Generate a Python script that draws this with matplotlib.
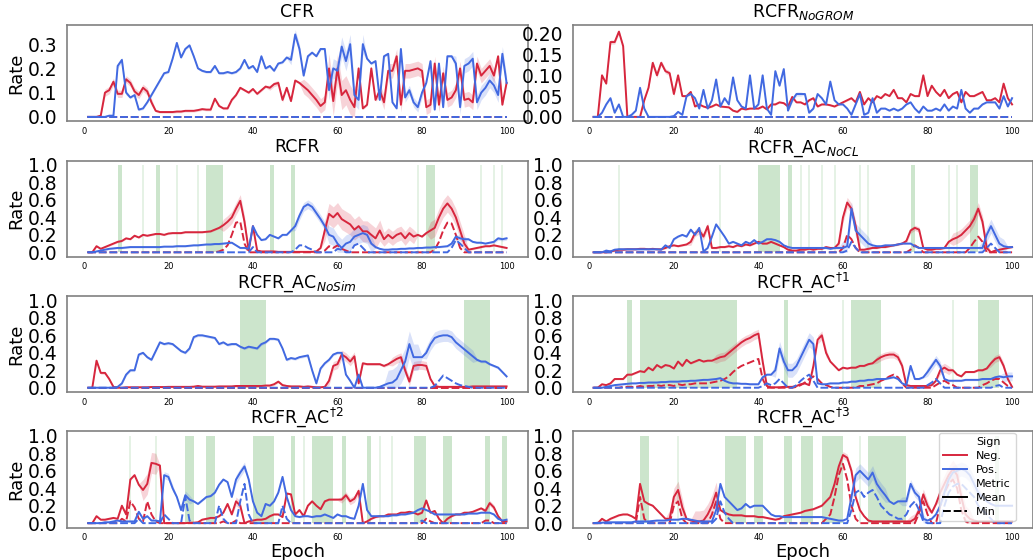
import numpy as np
import matplotlib
matplotlib.use('Agg')
import matplotlib.pyplot as plt
from matplotlib.lines import Line2D
from matplotlib.ticker import FormatStrFormatter

epochs = np.arange(1, 101)

# ---------------- CFR ----------------
cfr_neg = [0, 0, 0, 0.005, 0.10, 0.11, 0.145, 0.095, 0.095, 0.155,
           0.14, 0.105, 0.09, 0.12, 0.105, 0.06, 0.025, 0.02, 0.02, 0.02,
           0.02, 0.022, 0.022, 0.025, 0.025, 0.025, 0.028, 0.032, 0.03, 0.03,
           0.075, 0.045, 0.035, 0.035, 0.07, 0.09, 0.12, 0.11, 0.10, 0.115,
           0.095, 0.11, 0.125, 0.12, 0.135, 0.14, 0.07, 0.12, 0.065, 0.15,
           0.14, 0.125, 0.11, 0.09, 0.07, 0.045, 0.06, 0.20, 0.065, 0.20,
           0.09, 0.11, 0.07, 0.04, 0.20, 0.035, 0.05, 0.20, 0.07, 0.11,
           0.06, 0.19, 0.19, 0.25, 0.05, 0.19, 0.19, 0.195, 0.20, 0.19,
           0.04, 0.05, 0.22, 0.05, 0.18, 0.07, 0.08, 0.11, 0.20, 0.07,
           0.075, 0.06, 0.22, 0.17, 0.19, 0.21, 0.17, 0.25, 0.05, 0.14]
cfr_pos = [0, 0, 0, 0, 0, 0.005, 0.005, 0.21, 0.235, 0.10,
           0.08, 0.09, 0.03, 0.035, 0.06, 0.09, 0.12, 0.15, 0.18, 0.185,
           0.24, 0.305, 0.245, 0.28, 0.295, 0.25, 0.20, 0.19, 0.185, 0.185,
           0.21, 0.18, 0.18, 0.185, 0.18, 0.185, 0.20, 0.235, 0.20, 0.21,
           0.185, 0.25, 0.20, 0.21, 0.19, 0.22, 0.225, 0.245, 0.235, 0.34,
           0.28, 0.17, 0.25, 0.265, 0.25, 0.28, 0.28, 0.11, 0.20, 0.19,
           0.29, 0.23, 0.30, 0.09, 0.07, 0.30, 0.24, 0.22, 0.23, 0.07,
           0.25, 0.26, 0.06, 0.035, 0.28, 0.08, 0.11, 0.06, 0.04, 0.10,
           0.14, 0.23, 0.03, 0.22, 0.04, 0.25, 0.25, 0.22, 0.04, 0.21,
           0.22, 0.24, 0.06, 0.10, 0.12, 0.15, 0.13, 0.09, 0.26, 0.14]
cfr_neg_min = {}
cfr_pos_min = {}
cfr_neg_band = [(5, 16, 0.015), (44, 47, 0.01), (52, 57, 0.03), (58, 64, 0.06), (70, 75, 0.03), (76, 97, 0.03)]
cfr_pos_band = [(8, 10, 0.01), (49, 51, 0.02), (58, 66, 0.04), (76, 80, 0.02), (88, 100, 0.03)]
cfr_spans = []

# ---------------- RCFR_NoGROM ----------------
nogrom_neg = [0, 0, 0.10, 0.08, 0.18, 0.18, 0.205, 0.17, 0, 0,
              0, 0, 0.04, 0.07, 0.13, 0.10, 0.13, 0.11, 0.105, 0.055,
              0.10, 0.05, 0.05, 0.06, 0.025, 0.03, 0.025, 0.022, 0.025, 0.03,
              0.025, 0.024, 0.023, 0.015, 0.012, 0.02, 0.018, 0.02, 0.02, 0.02,
              0.025, 0.018, 0.03, 0.03, 0.035, 0.033, 0.025, 0.048, 0.035, 0.035,
              0.03, 0.04, 0.045, 0.025, 0.03, 0.03, 0.028, 0.025, 0.03, 0.035,
              0.04, 0.045, 0.035, 0.06, 0.03, 0.045, 0.035, 0.05, 0.045, 0.055,
              0.05, 0.065, 0.045, 0.045, 0.035, 0.055, 0.05, 0.05, 0.10, 0.05,
              0.075, 0.06, 0.05, 0.065, 0.045, 0.055, 0.06, 0.035, 0.06, 0.05,
              0.05, 0.055, 0.06, 0.04, 0.04, 0.045, 0.035, 0.08, 0.045, 0.03]
nogrom_pos = [0, 0, 0.01, 0.03, 0.045, 0.01, 0.03, 0, 0, 0.005,
              0.015, 0.07, 0.02, 0, 0, 0, 0, 0, 0, 0.002,
              0.012, 0.005, 0.05, 0.055, 0.045, 0.02, 0.065, 0.02, 0.04, 0.09,
              0.025, 0.045, 0.03, 0.095, 0.04, 0.025, 0.02, 0.10, 0.02, 0.03,
              0.10, 0.02, 0.005, 0.11, 0.075, 0.115, 0.015, 0.04, 0.055, 0.055,
              0.055, 0.01, 0.02, 0.055, 0.045, 0.03, 0.085, 0.04, 0.03, 0.03,
              0.02, 0.005, 0.03, 0.055, 0.005, 0.01, 0.045, 0.01, 0.02, 0.02,
              0.015, 0.02, 0.015, 0.02, 0.03, 0.035, 0.02, 0.01, 0.025, 0.015,
              0.015, 0.02, 0.015, 0.03, 0.015, 0.025, 0.02, 0.065, 0.02, 0.01,
              0.02, 0.02, 0.03, 0.035, 0.035, 0.035, 0.02, 0.05, 0.025, 0.045]
nogrom_neg_min = {}
nogrom_pos_min = {}
nogrom_neg_band = [(5, 8, 0.005), (15, 20, 0.006)]
nogrom_pos_band = [(48, 50, 0.005)]
nogrom_spans = []

# ---------------- RCFR ----------------
rcfr_neg = [0, 0, 0.07, 0.04, 0.06, 0.08, 0.10, 0.12, 0.13, 0.16,
            0.15, 0.19, 0.17, 0.20, 0.19, 0.20, 0.21, 0.21, 0.20, 0.215,
            0.22, 0.22, 0.22, 0.23, 0.23, 0.23, 0.23, 0.23, 0.235, 0.24,
            0.26, 0.28, 0.31, 0.35, 0.40, 0.50, 0.59, 0.35, 0.02, 0.30,
            0.02, 0.01, 0.01, 0.01, 0.01, 0.005, 0.005, 0.005, 0.005, 0.005,
            0.005, 0.005, 0.005, 0.005, 0.01, 0.05, 0.25, 0.44, 0.40, 0.45,
            0.38, 0.35, 0.32, 0.26, 0.30, 0.24, 0.24, 0.20, 0.16, 0.25,
            0.15, 0.20, 0.16, 0.20, 0.22, 0.16, 0.22, 0.18, 0.20, 0.18,
            0.22, 0.25, 0.28, 0.40, 0.50, 0.56, 0.50, 0.40, 0.25, 0.10,
            0.03, 0.04, 0.05, 0.06, 0.07, 0.07, 0.08, 0.07, 0.06, 0.05]
rcfr_pos = [0, 0, 0.01, 0.02, 0.03, 0.04, 0.045, 0.05, 0.05, 0.055,
            0.06, 0.06, 0.06, 0.06, 0.06, 0.06, 0.06, 0.06, 0.065, 0.065,
            0.065, 0.07, 0.07, 0.07, 0.075, 0.08, 0.08, 0.085, 0.09, 0.09,
            0.095, 0.095, 0.10, 0.105, 0.11, 0.08, 0.05, 0.05, 0.04, 0.30,
            0.20, 0.14, 0.15, 0.20, 0.18, 0.16, 0.20, 0.20, 0.25, 0.30,
            0.42, 0.52, 0.55, 0.52, 0.45, 0.38, 0.30, 0.20, 0.18, 0.10,
            0.05, 0.10, 0.12, 0.18, 0.20, 0.22, 0.20, 0.10, 0.06, 0.04,
            0.03, 0.03, 0.035, 0.035, 0.04, 0.04, 0.045, 0.045, 0.05, 0.05,
            0.055, 0.055, 0.06, 0.06, 0.065, 0.07, 0.10, 0.18, 0.16, 0.15,
            0.15, 0.12, 0.11, 0.11, 0.10, 0.11, 0.12, 0.16, 0.15, 0.16]
rcfr_neg_min = {32: 0.01, 33: 0.03, 34: 0.08, 35: 0.20, 36: 0.34, 37: 0.35, 38: 0.10,
                57: 0.02, 58: 0.07, 59: 0.05, 60: 0.08, 61: 0.04, 62: 0.02,
                83: 0.03, 84: 0.12, 85: 0.25, 86: 0.34, 87: 0.33, 88: 0.20, 89: 0.05}
rcfr_pos_min = {40: 0.06, 50: 0.03, 51: 0.08, 52: 0.08, 53: 0.05, 54: 0.03, 60: 0.04,
                61: 0.03, 64: 0.08, 65: 0.10, 66: 0.05, 87: 0.05, 88: 0.14, 89: 0.10, 90: 0.05}
rcfr_neg_band = [(33, 38, 0.07), (57, 70, 0.12), (71, 78, 0.08), (82, 90, 0.10)]
rcfr_pos_band = [(50, 57, 0.05), (58, 68, 0.10), (87, 90, 0.03), (97, 100, 0.02)]
rcfr_spans = [(8, 9), (14, 14), (17, 18), (22, 22), (27, 27), (29, 33), (44, 45),
              (49, 50), (79, 79), (81, 83), (94, 94), (97, 97), (99, 99)]

# ---------------- RCFR_AC_NoCL ----------------
nocl_neg = [0, 0, 0, 0, 0.01, 0.02, 0.03, 0.03, 0.035, 0.035,
            0.035, 0.04, 0.04, 0.035, 0.04, 0.035, 0.035, 0.05, 0.07, 0.08,
            0.07, 0.08, 0.09, 0.12, 0.22, 0.25, 0.18, 0.30, 0.05, 0.05,
            0.06, 0.06, 0.07, 0.06, 0.08, 0.07, 0.09, 0.08, 0.10, 0.12,
            0.10, 0.10, 0.12, 0.10, 0.08, 0.06, 0.03, 0.02, 0.02, 0.03,
            0.03, 0.04, 0.03, 0.04, 0.04, 0.06, 0.05, 0.05, 0.10, 0.40,
            0.57, 0.50, 0.30, 0.03, 0.03, 0.04, 0.05, 0.05, 0.06, 0.06,
            0.07, 0.08, 0.09, 0.10, 0.13, 0.25, 0.28, 0.26, 0.05, 0.03,
            0.03, 0.04, 0.04, 0.05, 0.12, 0.15, 0.17, 0.20, 0.25, 0.30,
            0.38, 0.50, 0.35, 0.05, 0.0, 0.02, 0.03, 0.04, 0.05, 0.06]
nocl_pos = [0, 0, 0, 0.02, 0.01, 0.03, 0.035, 0.035, 0.035, 0.035,
            0.035, 0.035, 0.035, 0.035, 0.035, 0.035, 0.03, 0.08, 0.05, 0.15,
            0.18, 0.20, 0.18, 0.26, 0.20, 0.28, 0.01, 0.05, 0.18, 0.32,
            0.25, 0.18, 0.10, 0.12, 0.10, 0.08, 0.12, 0.10, 0.14, 0.10,
            0.12, 0.15, 0.15, 0.14, 0.12, 0.08, 0.06, 0.05, 0.05, 0.05,
            0.05, 0.05, 0.05, 0.05, 0.05, 0.05, 0.04, 0.05, 0.05, 0.05,
            0.07, 0.50, 0.25, 0.20, 0.15, 0.10, 0.08, 0.07, 0.07, 0.08,
            0.08, 0.08, 0.09, 0.10, 0.10, 0.10, 0.07, 0.05, 0.05, 0.05,
            0.05, 0.05, 0.05, 0.05, 0.05, 0.05, 0.05, 0.05, 0.05, 0.05,
            0.05, 0.05, 0.05, 0.20, 0.30, 0.20, 0.10, 0.07, 0.06, 0.06]
nocl_neg_min = {60: 0.05, 61: 0.20, 62: 0.15, 63: 0.05, 76: 0.03, 77: 0.08, 78: 0.05,
                90: 0.05, 91: 0.12, 92: 0.18, 93: 0.12}
nocl_pos_min = {61: 0.02, 62: 0.12, 63: 0.05, 94: 0.05, 95: 0.10, 96: 0.05}
nocl_neg_band = [(24, 28, 0.04), (59, 63, 0.06), (75, 78, 0.03), (86, 94, 0.07)]
nocl_pos_band = [(60, 66, 0.08), (93, 98, 0.08)]
nocl_spans = [(7, 7), (31, 31), (40, 45), (47, 48), (50, 50), (52, 52), (55, 55),
              (58, 58), (64, 64), (66, 66), (76, 77), (85, 85), (87, 87), (90, 92)]

# ---------------- RCFR_AC_NoSim ----------------
nosim_neg = [0, 0, 0.31, 0.17, 0.17, 0.10, 0.01, 0, 0, 0.005,
             0.005, 0.005, 0.005, 0.005, 0.005, 0.008, 0.008, 0.008, 0.008, 0.01,
             0.01, 0.01, 0.01, 0.01, 0.01, 0.012, 0.02, 0.012, 0.012, 0.012,
             0.012, 0.015, 0.015, 0.015, 0.015, 0.02, 0.02, 0.02, 0.02, 0.02,
             0.02, 0.02, 0.025, 0.025, 0.04, 0.07, 0.03, 0.02, 0.015, 0.015,
             0.015, 0.01, 0.015, 0.01, 0.005, 0.005, 0.01, 0.08, 0.25, 0.27,
             0.38, 0.35, 0.30, 0.36, 0.05, 0.28, 0.27, 0.27, 0.27, 0.27,
             0.25, 0.27, 0.30, 0.33, 0.35, 0.20, 0.07, 0.25, 0.26, 0.26,
             0.25, 0.10, 0.02, 0.01, 0.01, 0.01, 0.01, 0.01, 0.01, 0.01,
             0.01, 0.015, 0.015, 0.015, 0.015, 0.015, 0.015, 0.015, 0.015, 0.015]
nosim_pos = [0, 0, 0, 0, 0, 0, 0, 0.01, 0.05, 0.15,
             0.20, 0.20, 0.38, 0.40, 0.35, 0.32, 0.42, 0.52, 0.50, 0.51,
             0.50, 0.46, 0.42, 0.40, 0.45, 0.58, 0.60, 0.60, 0.59, 0.58,
             0.57, 0.50, 0.52, 0.49, 0.50, 0.50, 0.47, 0.45, 0.47, 0.46,
             0.45, 0.50, 0.52, 0.56, 0.56, 0.55, 0.45, 0.32, 0.34, 0.33,
             0.35, 0.36, 0.37, 0.20, 0.05, 0.22, 0.28, 0.32, 0.38, 0.40,
             0.40, 0.15, 0.08, 0.0, 0.15, 0.0, 0.0, 0.0, 0.0, 0.01,
             0.03, 0.05, 0.06, 0.10, 0.20, 0.30, 0.50, 0.35, 0.35, 0.35,
             0.40, 0.50, 0.57, 0.59, 0.60, 0.60, 0.58, 0.52, 0.48, 0.44,
             0.40, 0.36, 0.32, 0.30, 0.30, 0.27, 0.25, 0.23, 0.18, 0.13]
nosim_neg_min = {}
nosim_pos_min = {83: 0.02, 84: 0.08, 85: 0.14, 86: 0.11, 87: 0.08, 88: 0.05, 89: 0.03,
                 90: 0.02, 91: 0.01}
nosim_neg_band = [(58, 64, 0.05), (73, 81, 0.05)]
nosim_pos_band = [(72, 79, 0.15), (81, 92, 0.07)]
nosim_spans = [(37, 43), (90, 96)]

# ---------------- RCFR_AC^{dagger 1} ----------------
ac1_neg = [0, 0, 0.04, 0.03, 0.05, 0.10, 0.10, 0.10, 0.15, 0.15,
           0.17, 0.19, 0.18, 0.23, 0.20, 0.26, 0.23, 0.26, 0.25, 0.22,
           0.30, 0.25, 0.32, 0.28, 0.30, 0.32, 0.30, 0.31, 0.31, 0.33,
           0.35, 0.36, 0.40, 0.44, 0.48, 0.52, 0.55, 0.57, 0.60, 0.62,
           0.30, 0.02, 0.005, 0.005, 0.005, 0.01, 0.01, 0.01, 0.02, 0.04,
           0.05, 0.03, 0.25, 0.55, 0.60, 0.40, 0.30, 0.25, 0.20, 0.23,
           0.22, 0.23, 0.23, 0.25, 0.25, 0.27, 0.28, 0.32, 0.35, 0.37,
           0.38, 0.38, 0.35, 0.25, 0.03, 0.02, 0.02, 0.02, 0.02, 0.02,
           0.03, 0.08, 0.20, 0.23, 0.20, 0.20, 0.15, 0.13, 0.18, 0.18,
           0.18, 0.20, 0.20, 0.22, 0.28, 0.33, 0.35, 0.25, 0.10, 0.01]
ac1_pos = [0, 0, 0, 0.01, 0.02, 0.03, 0.035, 0.04, 0.045, 0.05,
           0.05, 0.055, 0.055, 0.06, 0.06, 0.06, 0.065, 0.065, 0.07, 0.07,
           0.07, 0.075, 0.075, 0.08, 0.08, 0.085, 0.09, 0.09, 0.095, 0.10,
           0.11, 0.08, 0.06, 0.05, 0.05, 0.045, 0.045, 0.04, 0.04, 0.04,
           0.12, 0.15, 0.15, 0.20, 0.45, 0.30, 0.20, 0.20, 0.25, 0.35,
           0.45, 0.55, 0.50, 0.05, 0.04, 0.04, 0.05, 0.05, 0.05, 0.06,
           0.06, 0.07, 0.07, 0.08, 0.08, 0.09, 0.09, 0.10, 0.10, 0.10,
           0.11, 0.12, 0.10, 0.05, 0.03, 0.25, 0.10, 0.10, 0.12, 0.18,
           0.25, 0.32, 0.25, 0.10, 0.08, 0.08, 0.08, 0.08, 0.09, 0.09,
           0.09, 0.09, 0.10, 0.10, 0.10, 0.12, 0.13, 0.12, 0.13, 0.13]
ac1_neg_min = {8: 0.01, 9: 0.01, 10: 0.01, 11: 0.01, 12: 0.02, 13: 0.01, 14: 0.02, 15: 0.02,
               16: 0.03, 17: 0.02, 18: 0.03, 19: 0.03, 20: 0.02, 21: 0.04, 22: 0.03, 23: 0.04,
               24: 0.04, 25: 0.05, 26: 0.05, 27: 0.05, 28: 0.05, 29: 0.06, 30: 0.07,
               31: 0.08, 32: 0.10, 33: 0.13, 34: 0.18, 35: 0.22, 36: 0.25, 37: 0.27,
               38: 0.29, 39: 0.31, 40: 0.33, 41: 0.10, 49: 0.01, 50: 0.03, 51: 0.06,
               52: 0.10, 53: 0.13, 54: 0.10, 55: 0.05, 56: 0.03, 57: 0.01, 64: 0.02,
               65: 0.02, 66: 0.03, 67: 0.04, 68: 0.05, 69: 0.08, 70: 0.10, 71: 0.13,
               72: 0.15, 73: 0.12, 74: 0.05, 82: 0.03, 83: 0.06, 84: 0.08, 85: 0.05,
               86: 0.03, 93: 0.03, 94: 0.05, 95: 0.08, 96: 0.10, 97: 0.10, 98: 0.06, 99: 0.02}
ac1_pos_min = {41: 0.02, 42: 0.05, 43: 0.03, 44: 0.05, 45: 0.10, 46: 0.05, 49: 0.03,
               50: 0.08, 51: 0.12, 52: 0.15, 53: 0.08, 80: 0.03, 81: 0.06, 82: 0.10,
               83: 0.05, 96: 0.02, 97: 0.03}
ac1_neg_band = [(30, 41, 0.05), (53, 56, 0.05), (68, 74, 0.04), (83, 85, 0.05), (95, 98, 0.04)]
ac1_pos_band = [(44, 53, 0.08), (80, 83, 0.05), (98, 100, 0.05)]
ac1_spans = [(9, 10), (12, 35), (46, 47), (60, 60), (62, 69), (86, 86), (92, 97)]

# ---------------- RCFR_AC^{dagger 2} ----------------
ac2_neg = [0, 0, 0.08, 0.04, 0.04, 0.05, 0.06, 0.05, 0.20, 0.10,
           0.50, 0.55, 0.44, 0.38, 0.45, 0.69, 0.68, 0.66, 0.0, 0.0,
           0.0, 0.0, 0.0, 0.0, 0.005, 0.005, 0.01, 0.04, 0.05, 0.06,
           0.06, 0.08, 0.12, 0.22, 0.10, 0.25, 0.20, 0.0, 0.02, 0.03,
           0.04, 0.04, 0.05, 0.08, 0.10, 0.10, 0.07, 0.34, 0.33, 0.10,
           0.15, 0.08, 0.20, 0.25, 0.20, 0.16, 0.25, 0.27, 0.27, 0.27,
           0.27, 0.32, 0.25, 0.28, 0.37, 0.0, 0.02, 0.05, 0.07, 0.08,
           0.08, 0.10, 0.10, 0.10, 0.12, 0.12, 0.13, 0.12, 0.10, 0.12,
           0.26, 0.12, 0.14, 0.05, 0.0, 0.05, 0.08, 0.10, 0.10, 0.12,
           0.12, 0.13, 0.15, 0.17, 0.14, 0.23, 0.18, 0.08, 0.02, 0.02]
ac2_pos = [0, 0, 0, 0, 0.01, 0.01, 0.02, 0.03, 0.02, 0.02,
           0.02, 0.02, 0.13, 0.05, 0.08, 0.03, 0.03, 0.02, 0.55, 0.53,
           0.40, 0.30, 0.15, 0.32, 0.27, 0.25, 0.22, 0.26, 0.30, 0.31,
           0.35, 0.44, 0.50, 0.47, 0.30, 0.50, 0.58, 0.65, 0.50, 0.25,
           0.12, 0.08, 0.22, 0.20, 0.25, 0.35, 0.53, 0.30, 0.15, 0.08,
           0.07, 0.08, 0.08, 0.07, 0.08, 0.08, 0.10, 0.08, 0.06, 0.10,
           0.08, 0.08, 0.06, 0.05, 0.20, 0.45, 0.15, 0.08, 0.08, 0.08,
           0.08, 0.08, 0.09, 0.09, 0.10, 0.10, 0.11, 0.12, 0.15, 0.17,
           0.15, 0.13, 0.10, 0.10, 0.10, 0.10, 0.10, 0.10, 0.10, 0.10,
           0.11, 0.11, 0.11, 0.12, 0.12, 0.12, 0.10, 0.05, 0.03, 0.04]
ac2_neg_min = {9: 0.05, 10: 0.02, 11: 0.25, 12: 0.18, 13: 0.05, 14: 0.02, 15: 0.25,
               16: 0.10, 17: 0.02, 33: 0.02, 36: 0.03, 81: 0.05, 82: 0.02, 95: 0.03, 96: 0.03}
ac2_pos_min = {13: 0.05, 19: 0.10, 20: 0.05, 24: 0.30, 25: 0.03, 32: 0.20, 33: 0.05,
               37: 0.25, 38: 0.45, 39: 0.10, 47: 0.20, 48: 0.05, 80: 0.03}
ac2_neg_band = [(14, 17, 0.12), (36, 37, 0.05), (61, 65, 0.04), (95, 97, 0.03)]
ac2_pos_band = [(19, 21, 0.04), (24, 25, 0.05), (36, 38, 0.05)]
ac2_spans = [(11, 11), (17, 17), (24, 26), (29, 31), (40, 45), (49, 50), (52, 52),
             (54, 59), (61, 62), (67, 68), (70, 70), (73, 73), (78, 81), (85, 87),
             (95, 96), (99, 100)]

# ---------------- RCFR_AC^{dagger 3} ----------------
ac3_neg = [0, 0, 0.05, 0.02, 0.05, 0.07, 0.09, 0.10, 0.10, 0.08,
           0.05, 0.45, 0.25, 0.22, 0.20, 0.15, 0.10, 0.05, 0.05, 0.30,
           0.38, 0.18, 0.05, 0.03, 0.02, 0.02, 0.03, 0.10, 0.20, 0.35,
           0.15, 0.12, 0.10, 0.09, 0.09, 0.09, 0.08, 0.08, 0.08, 0.07,
           0.07, 0.06, 0.05, 0.04, 0.05, 0.08, 0.09, 0.10, 0.11, 0.12,
           0.14, 0.15, 0.16, 0.18, 0.20, 0.25, 0.30, 0.45, 0.65, 0.78,
           0.75, 0.60, 0.30, 0.15, 0.08, 0.03, 0.02, 0.02, 0.02, 0.02,
           0.02, 0.02, 0.02, 0.02, 0.02, 0.02, 0.05, 0.15, 0.33, 0.20,
           0.12, 0.22, 0.35, 0.45, 0.55, 0.62, 0.55, 0.30, 0.10, 0.05,
           0.03, 0.02, 0.02, 0.02, 0.02, 0.02, 0.02, 0.02, 0.02, 0.02]
ac3_pos = [0, 0.005, 0.005, 0.01, 0.01, 0.01, 0.01, 0.01, 0.01, 0.01,
           0.02, 0.02, 0.02, 0.02, 0.025, 0.03, 0.03, 0.03, 0.04, 0.04,
           0.04, 0.05, 0.05, 0.04, 0.03, 0.02, 0.02, 0.02, 0.02, 0.15,
           0.45, 0.30, 0.25, 0.20, 0.15, 0.17, 0.22, 0.18, 0.20, 0.20,
           0.20, 0.15, 0.10, 0.08, 0.08, 0.07, 0.07, 0.07, 0.07, 0.07,
           0.07, 0.07, 0.07, 0.07, 0.07, 0.06, 0.05, 0.04, 0.03, 0.03,
           0.05, 0.30, 0.55, 0.60, 0.55, 0.50, 0.58, 0.45, 0.38, 0.32,
           0.25, 0.22, 0.25, 0.25, 0.25, 0.45, 0.35, 0.30, 0.05, 0.03,
           0.05, 0.10, 0.20, 0.35, 0.50, 0.58, 0.60, 0.62, 0.60, 0.55,
           0.45, 0.35, 0.30, 0.25, 0.22, 0.20, 0.20, 0.20, 0.20, 0.20]
ac3_neg_min = {12: 0.30, 13: 0.05, 20: 0.20, 21: 0.25, 22: 0.05, 29: 0.10, 30: 0.25,
               31: 0.05, 56: 0.05, 57: 0.10, 58: 0.30, 59: 0.55, 60: 0.68, 61: 0.50,
               62: 0.20, 63: 0.05, 78: 0.12, 79: 0.25, 80: 0.10, 83: 0.20, 84: 0.35,
               85: 0.45, 86: 0.50, 87: 0.40, 88: 0.15, 89: 0.02}
ac3_pos_min = {30: 0.05, 31: 0.25, 32: 0.12, 33: 0.05, 62: 0.15, 63: 0.35, 64: 0.38,
               65: 0.30, 66: 0.35, 67: 0.38, 68: 0.30, 69: 0.20, 70: 0.15, 71: 0.10,
               72: 0.08, 73: 0.05, 74: 0.05, 75: 0.10, 76: 0.20, 77: 0.25, 78: 0.15,
               79: 0.02, 84: 0.20, 85: 0.35, 86: 0.42, 87: 0.45, 88: 0.45, 89: 0.40,
               90: 0.35, 91: 0.30, 92: 0.20, 93: 0.15, 94: 0.10, 95: 0.05}
ac3_neg_band = [(19, 22, 0.10), (25, 30, 0.12), (58, 62, 0.04), (76, 80, 0.06), (83, 90, 0.10)]
ac3_pos_band = [(62, 70, 0.08), (74, 79, 0.05), (84, 92, 0.08)]
ac3_spans = [(12, 14), (21, 21), (32, 37), (39, 41), (46, 48), (50, 53), (55, 60),
             (64, 64), (66, 75), (96, 97)]

titles = ['CFR', r'RCFR$_{NoGROM}$', 'RCFR', r'RCFR_AC$_{NoCL}$',
          r'RCFR_AC$_{NoSim}$', r'RCFR_AC$^{\dagger1}$', r'RCFR_AC$^{\dagger2}$',
          r'RCFR_AC$^{\dagger3}$']

RED = '#d7263d'
BLUE = '#4169e1'


def from_sparse(d):
    arr = np.zeros(100)
    for k, v in d.items():
        arr[k - 1] = v
    return arr


def band(base, ranges):
    s = np.full(100, base)
    for a, b, w in ranges:
        s[a - 1:b] = w
    return s


panels = [
    (cfr_neg, cfr_pos, cfr_neg_min, cfr_pos_min, cfr_neg_band, cfr_pos_band, 0.005, cfr_spans),
    (nogrom_neg, nogrom_pos, nogrom_neg_min, nogrom_pos_min, nogrom_neg_band, nogrom_pos_band, 0.002, nogrom_spans),
    (rcfr_neg, rcfr_pos, rcfr_neg_min, rcfr_pos_min, rcfr_neg_band, rcfr_pos_band, 0.01, rcfr_spans),
    (nocl_neg, nocl_pos, nocl_neg_min, nocl_pos_min, nocl_neg_band, nocl_pos_band, 0.01, nocl_spans),
    (nosim_neg, nosim_pos, nosim_neg_min, nosim_pos_min, nosim_neg_band, nosim_pos_band, 0.015, nosim_spans),
    (ac1_neg, ac1_pos, ac1_neg_min, ac1_pos_min, ac1_neg_band, ac1_pos_band, 0.01, ac1_spans),
    (ac2_neg, ac2_pos, ac2_neg_min, ac2_pos_min, ac2_neg_band, ac2_pos_band, 0.01, ac2_spans),
    (ac3_neg, ac3_pos, ac3_neg_min, ac3_pos_min, ac3_neg_band, ac3_pos_band, 0.01, ac3_spans),
]

fig, axes = plt.subplots(4, 2, figsize=(10.33, 5.6), dpi=100)
plt.subplots_adjust(left=0.065, right=1.0, bottom=0.058, top=0.955, hspace=0.41, wspace=0.098)

for i, (ax, p) in enumerate(zip(axes.flat, panels)):
    neg, pos, neg_min, pos_min, neg_b, pos_b, base, spans = p
    for a, b in spans:
        if a == b:
            ax.vlines(a, 0, 1, color='green', alpha=0.12, lw=1.2)
        else:
            ax.fill_between([a, b], 0, 1, color='green', alpha=0.2, lw=0)
    for mean, mn, rng, c in [(neg, neg_min, neg_b, RED), (pos, pos_min, pos_b, BLUE)]:
        mean = np.array(mean)
        hw = band(base, rng)
        ax.fill_between(epochs, np.clip(mean - hw, 0, None), mean + hw, color=c, alpha=0.2, lw=0)
        ax.plot(epochs, mean, color=c, lw=1.4)
        ax.plot(epochs, from_sparse(mn), color=c, lw=1.4, ls=(0, (4, 1.5)))

    ax.set_title(titles[i], fontsize=12.5)
    for s in ax.spines.values():
        s.set_color('0.5')
        s.set_linewidth(1.2)
    ax.tick_params(axis='x', labelsize=6, length=0, pad=4)
    ax.tick_params(axis='y', labelsize=13.5, length=0, pad=7)
    ax.set_xticks([0, 20, 40, 60, 80, 100])
    if i == 0:
        ax.set_yticks([0, 0.1, 0.2, 0.3])
        ax.yaxis.set_major_formatter(FormatStrFormatter('%.1f'))
    elif i == 1:
        ax.set_yticks([0, 0.05, 0.1, 0.15, 0.2])
        ax.yaxis.set_major_formatter(FormatStrFormatter('%.2f'))
    else:
        ax.set_yticks([0, 0.2, 0.4, 0.6, 0.8, 1.0])
        ax.yaxis.set_major_formatter(FormatStrFormatter('%.1f'))
    if i % 2 == 0:
        ax.set_ylabel('Rate', fontsize=13, labelpad=2)
    if i >= 6:
        ax.set_xlabel('Epoch', fontsize=13, labelpad=1)

handles = [Line2D([], [], color='none'),
           Line2D([], [], color=RED, lw=1.4),
           Line2D([], [], color=BLUE, lw=1.4),
           Line2D([], [], color='none'),
           Line2D([], [], color='black', lw=1.4),
           Line2D([], [], color='black', lw=1.4, ls=(0, (4, 1.5)))]
labels = ['Sign', 'Neg.', 'Pos.', 'Metric', 'Mean', 'Min']
axes[3, 1].legend(handles, labels, loc='upper right', bbox_to_anchor=(0.962, 0.985),
                  borderaxespad=0, fontsize=8, labelspacing=0.35, handlelength=2.2)

fig.savefig('out.png', dpi=100)
